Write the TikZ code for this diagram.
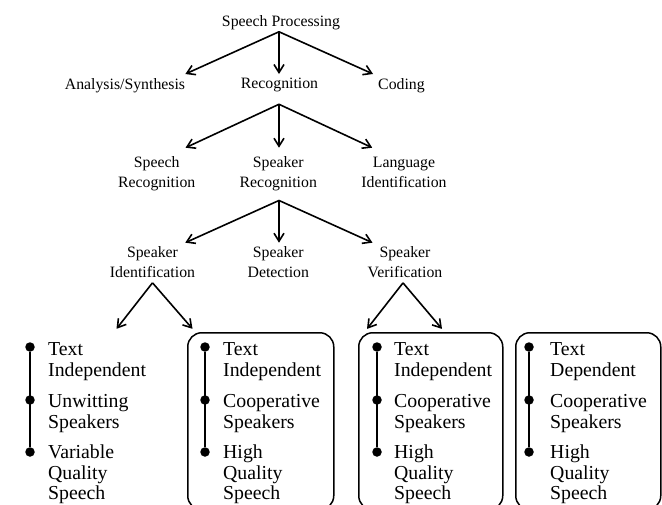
\documentclass[tikz,border=0pt]{standalone}
\usepackage{fontspec}
\setmainfont{Liberation Serif}
\usetikzlibrary{arrows.meta}

\begin{document}
\begin{tikzpicture}[x=1pt,y=-1pt,
    lbl/.style={align=center,inner sep=0pt,anchor=north,font=\fontsize{15.8}{20}\selectfont},
    item/.style={align=left,inner sep=0pt,anchor=north west,font=\fontsize{19.8}{20.5}\selectfont},
    arr/.style={line width=1.6pt,-{Straight Barb[length=8pt,width=10pt,line width=1.6pt]}},
    dot/.style={circle,fill=black,inner sep=0pt,minimum size=9.5pt},
    panel/.style={draw,line width=1.5pt,rounded corners=14pt,anchor=north west,minimum height=177pt}]
    \useasboundingbox (0,0) rectangle (662,504);
    \clip (0,0) rectangle (662,504);
    % tree
    \node[lbl] (sp) at (281,15) {Speech Processing};
    \node[lbl] (ana) at (125,78) {Analysis/Synthesis};
    \node[lbl] (rec) at (279.5,78) {Recognition};
    \node[lbl] (cod) at (401.5,78) {Coding};
    \node[lbl] (sr) at (156.7,156.7) {Speech\\Recognition};
    \node[lbl] (spr) at (278.3,156.7) {Speaker\\Recognition};
    \node[lbl] (li) at (404,156.7) {Language\\Identification};
    \node[lbl] (sid) at (152.5,246.7) {Speaker\\Identification};
    \node[lbl] (sd) at (278.3,246.7) {Speaker\\Detection};
    \node[lbl] (sv) at (405,246.7) {Speaker\\Verification};
    \draw[arr] ([xshift=-2pt,yshift=-2pt]sp.south) -- ([yshift=4pt]ana.north east);
    \draw[arr] ([xshift=-2pt,yshift=-2pt]sp.south) -- ([xshift=-0.5pt,yshift=4pt]rec.north);
    \draw[arr] ([xshift=-2pt,yshift=-2pt]sp.south) -- ([xshift=-5pt,yshift=4pt]cod.north west);
    \draw[arr] ([xshift=-0.5pt,yshift=-12pt]rec.south) -- ([xshift=-10pt,yshift=9pt]sr.north east);
    \draw[arr] ([xshift=-0.5pt,yshift=-12pt]rec.south) -- ([xshift=0.7pt,yshift=9pt]spr.north);
    \draw[arr] ([xshift=-0.5pt,yshift=-12pt]rec.south) -- ([xshift=11pt,yshift=9pt]li.north west);
    \draw[arr] ([xshift=0.7pt,yshift=-9pt]spr.south) -- ([xshift=-10pt,yshift=4pt]sid.north east);
    \draw[arr] ([xshift=0.7pt,yshift=-9pt]spr.south) -- ([xshift=0.7pt,yshift=4pt]sd.north);
    \draw[arr] ([xshift=0.7pt,yshift=-9pt]spr.south) -- ([xshift=5pt,yshift=4pt]sv.north west);
    \draw[arr] ([yshift=-4.6pt]sid.south) -- ++(-36,46);
    \draw[arr] ([yshift=-4.6pt]sid.south) -- ++(40,46);
    \draw[arr] ([xshift=-2pt,yshift=-4.6pt]sv.south) -- ++(-36,46);
    \draw[arr] ([xshift=-2pt,yshift=-4.6pt]sv.south) -- ++(39,46);
    % panels
    \node[panel,minimum width=146pt] (pb) at (187,332) {};
    \node[panel,minimum width=144pt] (pc) at (358,332) {};
    \node[panel,minimum width=145pt] (pd) at (515,332) {};
    \foreach \c/\x in {a/30,b/205,c/377,d/529}{
      \foreach \i/\y in {1/347,2/400,3/452}
        \node[dot] (\c\i) at (\x,\y) {};
      \draw[line width=1.6pt] (\c1) -- (\c3);
    }
    \foreach \c/\x/\p/\q/\r in {a/48/{Text\\Independent}/{Unwitting\\Speakers}/{Variable\\Quality\\Speech},
        b/223/{Text\\Independent}/{Cooperative\\Speakers}/{High\\Quality\\Speech},
        c/394/{Text\\Independent}/{Cooperative\\Speakers}/{High\\Quality\\Speech},
        d/550/{Text\\Dependent}/{Cooperative\\Speakers}/{High\\Quality\\Speech}}{
      \node[item] (\c t1) at (\x,342.5) {\p};
      \node[item] (\c t2) at (\x,394.5) {\q};
      \node[item] (\c t3) at (\x,445) {\r};
    }
\end{tikzpicture}
\end{document}
